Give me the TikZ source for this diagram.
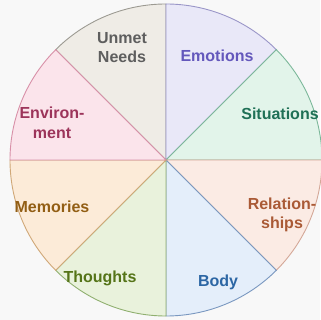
\documentclass[tikz,border=0pt]{standalone}
\usepackage{fontspec}
\setmainfont{Liberation Sans}
\usepackage{tikz}

% sector fills, rims and label inks
\definecolor{needF}{HTML}{EFECE6}\definecolor{needD}{HTML}{9C9A92}\definecolor{needT}{HTML}{5E5E5E}
\definecolor{emoF}{HTML}{E9E8F8}\definecolor{emoD}{HTML}{9A96C8}\definecolor{emoT}{HTML}{6458BC}
\definecolor{sitF}{HTML}{E2F4EA}\definecolor{sitD}{HTML}{7CB89A}\definecolor{sitT}{HTML}{1F7056}
\definecolor{relF}{HTML}{FBEBE4}\definecolor{relD}{HTML}{D4A898}\definecolor{relT}{HTML}{AA5A36}
\definecolor{bodF}{HTML}{E4EEFA}\definecolor{bodD}{HTML}{7A98C0}\definecolor{bodT}{HTML}{2C66A4}
\definecolor{thoF}{HTML}{E9F2DC}\definecolor{thoD}{HTML}{90B070}\definecolor{thoT}{HTML}{557418}
\definecolor{memF}{HTML}{FCEBD8}\definecolor{memD}{HTML}{D0A878}\definecolor{memT}{HTML}{925E14}
\definecolor{envF}{HTML}{FBE4EB}\definecolor{envD}{HTML}{D890A8}\definecolor{envT}{HTML}{9C345A}
\definecolor{paper}{HTML}{F8F8F8}

\begin{document}
\begin{tikzpicture}[x=1pt,y=1pt, every node/.style={font=\fontsize{16}{19.5}\selectfont\bfseries, align=center, inner sep=0pt}]
                \fill[paper] (0,0) rectangle (320,320);
                \useasboundingbox (0,0) rectangle (320,320);

                \begin{scope}[shift={(166,160)}, line width=0.9pt]
                \filldraw[fill=needF, draw=needD] (0,0) -- (135:156) arc (135:90:156) -- cycle;
                \filldraw[fill=emoF, draw=emoD] (0,0) -- (90:156) arc (90:45:156) -- cycle;
                \filldraw[fill=sitF, draw=sitD] (0,0) -- (45:156) arc (45:0:156) -- cycle;
                \filldraw[fill=relF, draw=relD] (0,0) -- (0:156) arc (0:-45:156) -- cycle;
                \filldraw[fill=bodF, draw=bodD] (0,0) -- (-45:156) arc (-45:-90:156) -- cycle;
                \filldraw[fill=thoF, draw=thoD] (0,0) -- (-90:156) arc (-90:-135:156) -- cycle;
                \filldraw[fill=memF, draw=memD] (0,0) -- (-135:156) arc (-135:-180:156) -- cycle;
                \filldraw[fill=envF, draw=envD] (0,0) -- (180:156) arc (180:135:156) -- cycle;
                \end{scope}

                \node[needT] (need) at (122,272.5) {Unmet\\Needs};
                \node[emoT] (emo) at (217,264) {Emotions};
                \node[sitT] (sit) at (280,206) {Situations};
                \node[relT] (rel) at (282,105) {Relation-\\ships};
                \node[bodT] (bod) at (218,38) {Body};
                \node[thoT] (tho) at (100,42) {Thoughts};
                \node[memT] (mem) at (52,113) {Memories};
                \node[envT] (env) at (52,197) {Environ-\\ment};
            \end{tikzpicture}
\end{document}
